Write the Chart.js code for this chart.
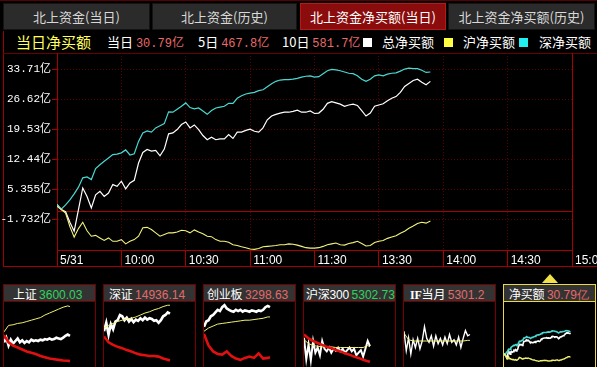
<!DOCTYPE html>
<html>
<head>
<meta charset="utf-8">
<script src="https://cdn.jsdelivr.net/npm/chart.js@4.4.1/dist/chart.umd.min.js"></script>
<style>
html, body { margin: 0; padding: 0; background: #000; }
body { width: 597px; height: 367px; overflow: hidden; position: relative; font-family: 'Noto Sans CJK SC', sans-serif; }
.topline { position: absolute; left: 0; top: 0; width: 597px; height: 1px; background: #5a0000; }
.tab { position: absolute; top: 3px; height: 27px; line-height: 26px; text-align: center; color: #d8d8d8; font-size: 13px;
       background: #2b2b2b; border: 1px solid #141414; box-sizing: border-box; }
.tab.on { background: #8a0c0c; border-color: #b41a1a; color: #fff; }
.hd { position: absolute; top: 31px; height: 22px; line-height: 22px; font-size: 13px; color: #fff; white-space: nowrap; }
.num { font-family: 'Liberation Mono', 'Noto Sans CJK SC', monospace; font-size: 12px; color: #e86a6a; }
.sq { position: absolute; top: 38px; width: 9px; height: 9px; }
.frame { position: absolute; left: 3px; top: 31px; width: 594px; height: 236px; border-left: 1px solid #a00000; border-bottom: 1px solid #a00000; box-sizing: border-box; }
.hline { position: absolute; left: 3px; top: 53px; width: 594px; height: 1px; background: #6a0000; }
#mainWrap { position: absolute; left: 0; top: 53px; width: 597px; height: 214px; }
.tb { position: absolute; top: 284px; width: 93px; height: 90px; }
.tbh { position: absolute; left: 0; top: 0; width: 93px; height: 18px; line-height: 17px; background: #333; border: 1px solid #6e0000;
       box-sizing: border-box; font-size: 12px; color: #fff; white-space: nowrap; overflow: hidden; padding-left: 3px; letter-spacing: -0.2px; }
.tbh .v { font-family: 'Liberation Sans', sans-serif; font-size: 12px; letter-spacing: 0; }
.tbh .d { font-family: 'Liberation Sans', sans-serif; font-size: 12px; }
.tbb { position: absolute; left: 0; top: 18px; width: 93px; height: 72px; border: 1px solid #7a0000; border-top: none; box-sizing: border-box; }
.tbb .cw { position: absolute; left: 0; top: 0; width: 91px; height: 65px; }
.sel .tbh, .sel .tbb { border-color: #e8d84a; }
.tri { position: absolute; left: 542px; top: 274px; width: 0; height: 0; border-left: 8px solid transparent; border-right: 8px solid transparent; border-bottom: 9px solid #f2e24a; }
</style>
</head>
<body>
<div class="topline"></div>
<div class="tab" style="left:3px;width:147px">北上资金(当日)</div>
<div class="tab" style="left:152px;width:145px">北上资金(历史)</div>
<div class="tab on" style="left:300px;width:146px">北上资金净买额(当日)</div>
<div class="tab" style="left:448px;width:147px">北上资金净买额(历史)</div>

<div class="frame"></div>
<div class="hline"></div>
<div class="hd" style="left:16px;font-size:15px;color:#ffff5a">当日净买额</div>
<div class="hd" style="left:107px">当日 <span class="num">30.79亿</span></div>
<div class="hd" style="left:198px">5日 <span class="num">467.8亿</span></div>
<div class="hd" style="left:282px">10日 <span class="num">581.7亿</span></div>
<div class="sq" style="left:363px;background:#fff"></div>
<div class="hd" style="left:382px">总净买额</div>
<div class="sq" style="left:444px;background:#ffff40"></div>
<div class="hd" style="left:463px">沪净买额</div>
<div class="sq" style="left:519px;background:#20f0f0"></div>
<div class="hd" style="left:539px">深净买额</div>

<div id="mainWrap"><canvas id="main"></canvas></div>

<div class="tb" style="left:3px"><div class="tbh" style="padding-left:9px">上证 <span class="v" style="color:#2fd35c">3600.03</span></div><div class="tbb"><div class="cw"><canvas id="t1"></canvas></div></div></div>
<div class="tb" style="left:103px"><div class="tbh" style="padding-left:5px">深证 <span class="v" style="color:#e46a6a">14936.14</span></div><div class="tbb"><div class="cw"><canvas id="t2"></canvas></div></div></div>
<div class="tb" style="left:203px"><div class="tbh">创业板 <span class="v" style="color:#e46a6a">3298.63</span></div><div class="tbb"><div class="cw"><canvas id="t3"></canvas></div></div></div>
<div class="tb" style="left:303px"><div class="tbh" style="padding-left:2px">沪深<span class="d">300</span> <span class="v" style="color:#2fd35c">5302.73</span></div><div class="tbb"><div class="cw"><canvas id="t4"></canvas></div></div></div>
<div class="tb" style="left:403px"><div class="tbh" style="padding-left:6px"><span class="d" style="font-family:'Liberation Serif',serif;font-weight:bold">IF</span>当月 <span class="v" style="color:#e46a6a">5301.2</span></div><div class="tbb"><div class="cw"><canvas id="t5"></canvas></div></div></div>
<div class="tri"></div>
<div class="tb sel" style="left:503px"><div class="tbh" style="padding-left:5px">净买额 <span class="v" style="color:#e46a6a">30.79亿</span></div><div class="tbb"><div class="cw"><canvas id="t6"></canvas></div></div></div>

<script>
// minutes since 9:30 (lunch break removed), one point every 2 minutes up to 13:54
const minutes = [
  0, 2, 4, 6, 8, 10, 12, 14, 16, 18,
  20, 22, 24, 26, 28, 30, 32, 34, 36, 38,
  40, 42, 44, 46, 48, 50, 52, 54, 56, 58,
  60, 62, 64, 66, 68, 70, 72, 74, 76, 78,
  80, 82, 84, 86, 88, 90, 92, 94, 96, 98,
  100, 102, 104, 106, 108, 110, 112, 114, 116, 118,
  120, 122, 124, 126, 128, 130, 132, 134, 136, 138,
  140, 142, 144, 146, 148, 150, 152, 154, 156, 158,
  160, 162, 164, 166, 168, 170, 172, 174
];

// 总净买额 (亿)
const totalNet = [
  1.7, 0.5, 0.0, -2.5, -4.6, 0.5, 5.6, 3.6, 0.9, 4.0,
  4.8, 3.6, 4.4, 6.4, 6.0, 7.2, 5.4, 6.8, 7.4, 11.5,
  14.0, 14.7, 14.3, 14.5, 13.2, 14.8, 18.4, 18.6, 19.4, 20.6,
  21.2, 19.8, 20.5, 19.4, 18.0, 17.0, 17.6, 17.0, 17.2, 17.2,
  18.2, 17.3, 18.8, 18.8, 19.2, 19.5, 19.0, 18.8, 19.8, 21.7,
  22.6, 23.0, 23.3, 23.5, 23.5, 23.7, 24.0, 23.5, 23.5, 23.8,
  23.2, 23.3, 24.2, 25.6, 26.0, 25.7, 25.4, 24.9, 25.2, 25.4,
  25.1, 23.9, 22.6, 23.3, 24.9, 25.2, 25.5, 26.2, 26.8, 27.2,
  28.2, 29.6, 30.3, 31.0, 31.3, 30.6, 30.0, 30.79
];

// 沪净买额 (亿)
const shNet = [
  1.3, 0.5, -0.3, -3.5, -6.0, -4.0, -2.5, -4.5, -5.8, -5.6,
  -6.2, -6.8, -6.2, -7.0, -7.0, -6.6, -7.6, -7.0, -6.6, -5.8,
  -3.8, -3.7, -4.2, -5.0, -5.8, -5.4, -5.0, -5.0, -4.8, -4.4,
  -4.5, -5.0, -4.3, -4.8, -5.2, -5.8, -5.9, -6.6, -7.0, -7.0,
  -7.2, -7.8, -8.0, -8.3, -8.5, -8.8, -8.9, -8.7, -8.3, -8.2,
  -8.1, -8.0, -7.8, -7.8, -7.6, -7.7, -7.9, -8.2, -8.5, -8.6,
  -8.6, -8.5, -8.2, -7.8, -7.6, -7.4, -7.8, -7.9, -7.5, -7.3,
  -7.0, -7.5, -8.1, -8.0, -7.3, -7.0, -6.8, -6.3, -6.0, -5.7,
  -5.1, -4.6, -3.9, -3.4, -2.8, -2.5, -2.7, -2.2
];

// 深净买额 (亿)
const szNet = [
  1.7, 0.6, 1.6, 2.8, 4.2, 5.8, 8.0, 8.2, 7.6, 10.2,
  11.1, 11.9, 12.7, 13.5, 13.6, 13.9, 14.6, 13.4, 13.7, 16.6,
  18.6, 19.1, 18.8, 19.8, 20.3, 20.8, 23.6, 23.5, 24.2, 24.9,
  25.7, 24.6, 24.3, 24.5, 23.8, 23.0, 23.9, 24.5, 24.7, 24.9,
  25.6, 25.6, 26.8, 27.4, 27.8, 28.0, 28.2, 28.6, 28.8, 29.5,
  30.2, 30.8, 31.1, 31.2, 31.2, 31.3, 31.5, 31.8, 32.0, 32.1,
  31.8, 31.9, 32.6, 33.3, 33.6, 33.5, 33.3, 33.0, 32.7, 32.6,
  32.1, 31.3, 30.8, 31.3, 32.1, 32.3, 32.1, 32.5, 32.7, 32.8,
  33.2, 33.7, 33.9, 33.8, 33.8, 33.4, 32.9, 33.0
];

const xTickMinutes = [0, 30, 60, 90, 120, 150, 180, 210, 240];
const xTickLabels = ['5/31', '10:00', '10:30', '11:00', '11:30', '13:30', '14:00', '14:30', '15:00'];
const yTicks = [-1.732, 5.355, 12.44, 19.53, 26.62, 33.71];
const yTickLabels = ['-1.732亿', '5.355亿', '12.44亿', '19.53亿', '26.62亿', '33.71亿'];

// small panels at the bottom, levels read relative to each panel (0 = bottom, 100 = top)
const thumbCoarse = [0, 12, 24, 36, 48, 60, 72, 84, 96, 108, 120, 132, 144, 156, 168, 174];
const thumbFine = [0, 6, 12, 18, 24, 30, 36, 42, 48, 54, 60, 66, 72, 78, 84, 90, 96, 102, 108, 114, 120, 126, 132, 138, 144, 150, 156, 162, 168, 174];

const shWhite = [38, 45, 33, 42, 36, 40, 44, 38, 41, 37, 40, 38, 42, 40, 41, 40, 42, 41, 43, 42, 44, 42, 43, 45, 44, 43, 45, 48, 50, 48];
const shYellow = [54, 64, 65, 67, 68, 70, 72, 74, 76, 80, 83, 86, 89, 92, 94, 93];
const shRed = [49, 38, 33, 30, 27, 24, 22, 20, 17, 15, 13, 12, 11, 10, 9.5, 9];

const szWhite = [55, 68, 50, 66, 58, 70, 72, 80, 78, 72, 76, 70, 74, 69, 73, 71, 75, 72, 76, 73, 75, 74, 71, 72, 68, 72, 78, 80, 84, 82];
const szYellow = [60, 64, 67, 70, 72, 74, 75, 77, 80, 83, 85, 88, 90, 93, 95, 95];
const szRed = [47, 38, 34, 31, 29, 26, 24, 21, 19, 18, 17, 17, 16, 13, 11, 10];

const cyWhite = [62, 70, 72, 78, 80, 84, 88, 86, 92, 95, 90, 88, 86, 85, 88, 86, 88, 85, 87, 86, 85, 87, 86, 85, 87, 86, 88, 92, 94, 92];
const cyYellow = [55, 60, 63, 66, 67, 68, 69, 70, 71, 72, 72, 73, 74, 75, 77, 77];
const cyRed = [51, 33, 24, 20, 19, 24, 17, 13, 11, 14, 16, 14, 21, 13, 14, 15];

const hsWhite = [45, 12, 35, 10, 40, 22, 30, 18, 40, 28, 24, 30, 22, 28, 25, 30, 24, 28, 22, 26, 30, 24, 28, 18, 22, 26, 16, 28, 40, 32];
const hsYellow = [42, 36, 33, 32, 31, 31, 31, 30, 30, 30, 30, 30, 30, 30, 33, 31];
const hsRed = [50, 44, 40, 37, 34, 31, 29, 26, 24, 21, 19, 16, 14, 11, 9, 8];

const ifWhite = [55, 25, 45, 20, 42, 30, 44, 28, 40, 62, 44, 38, 48, 32, 48, 36, 44, 34, 46, 36, 50, 38, 42, 34, 46, 30, 44, 56, 48, 50];
const ifYellow = [52, 42, 40, 40, 40, 40, 40, 40, 40, 40, 40, 40, 40, 40, 41, 41];

Chart.defaults.font.family = "'Liberation Sans', 'Noto Sans CJK SC', sans-serif";

const RED = '#a80000';
const DIM = '#560000';
const isEdge = v => v === 0 || v === 240;

new Chart(document.getElementById('main'), {
  type: 'line',
  data: {
    labels: minutes,
    datasets: [
      { label: '沪净买额', data: shNet, borderColor: '#f2f27c', borderWidth: 1.1 },
      { label: '深净买额', data: szNet, borderColor: '#4ad8d2', borderWidth: 1.2 },
      { label: '总净买额', data: totalNet, borderColor: '#ffffff', borderWidth: 1.2 }
    ]
  },
  options: {
    responsive: true,
    maintainAspectRatio: false,
    animation: false,
    layout: { padding: { left: 0, right: 25, top: 0, bottom: 0 } },
    elements: { point: { radius: 0 }, line: { tension: 0 } },
    plugins: { legend: { display: false }, tooltip: { enabled: false } },
    scales: {
      x: {
        type: 'linear',
        min: 0,
        max: 240,
        afterBuildTicks: s => { s.ticks = xTickMinutes.map(v => ({ value: v })); },
        afterFit: s => { s.height = 17; s.paddingLeft = 0; s.paddingRight = 0; },
        ticks: {
          autoSkip: false, maxRotation: 0, align: 'start', labelOffset: 3, padding: -14,
          color: '#ffffff', font: { size: 12 },
          callback: (v, i) => xTickLabels[i]
        },
        grid: {
          color: c => (c.tick && isEdge(c.tick.value)) ? RED : DIM,
          tickLength: 17, tickColor: RED, tickBorderDash: []
        },
        border: { color: RED, dash: c => (c.tick && !isEdge(c.tick.value)) ? [1, 2] : [] }
      },
      y: {
        min: -9.05,
        max: 37.49,
        afterBuildTicks: s => { s.ticks = yTicks.concat([0]).map(v => ({ value: v })); },
        afterFit: s => { s.width = 57; s.paddingTop = 0; s.paddingBottom = 0; },
        ticks: {
          padding: 1, color: '#ffffff',
          font: { size: 11, family: "'Liberation Mono', 'Noto Sans CJK SC', monospace" },
          callback: v => { const i = yTicks.indexOf(v); return i < 0 ? '' : yTickLabels[i]; }
        },
        grid: {
          color: c => (c.tick && c.tick.value === 0) ? RED : DIM,
          tickLength: 5,
          tickColor: c => (c.tick && c.tick.value === 0) ? 'rgba(0,0,0,0)' : RED,
          tickBorderDash: []
        },
        border: { color: RED, dash: c => (c.tick && c.tick.value !== 0) ? [1, 2] : [] }
      }
    }
  }
});

function line(xs, ys, color, width) {
  return { data: xs.map((m, i) => ({ x: m, y: ys[i] })), borderColor: color, borderWidth: width };
}

function thumb(id, datasets, lo, hi) {
  new Chart(document.getElementById(id), {
    type: 'line',
    data: { datasets: datasets },
    options: {
      responsive: true, maintainAspectRatio: false, animation: false,
      layout: { padding: 0 },
      elements: { point: { radius: 0 }, line: { tension: 0 } },
      plugins: { legend: { display: false }, tooltip: { enabled: false } },
      scales: {
        x: { type: 'linear', min: 0, max: 240, display: false },
        y: { min: lo, max: hi, display: false }
      }
    }
  });
}

thumb('t1', [
  line(thumbCoarse, shYellow, '#f0f070', 1),
  line(thumbCoarse, shRed, '#e01010', 2.6),
  line(thumbFine, shWhite, '#ffffff', 2.6)
], 0, 100);
thumb('t2', [
  line(thumbCoarse, szYellow, '#f0f070', 1),
  line(thumbCoarse, szRed, '#e01010', 2.6),
  line(thumbFine, szWhite, '#ffffff', 2.6)
], 0, 100);
thumb('t3', [
  line(thumbCoarse, cyYellow, '#f0f070', 1),
  line(thumbCoarse, cyRed, '#e01010', 2.6),
  line(thumbFine, cyWhite, '#ffffff', 2.6)
], 0, 100);
thumb('t4', [
  line(thumbCoarse, hsRed, '#e01010', 2.6),
  line(thumbCoarse, hsYellow, '#f0f070', 1),
  line(thumbFine, hsWhite, '#ffffff', 2)
], 0, 100);
thumb('t5', [
  line(thumbCoarse, ifYellow, '#f0f070', 1),
  line(thumbFine, ifWhite, '#ffffff', 1.4)
], 0, 100);
thumb('t6', [
  line(minutes, shNet, '#f0f070', 1.4),
  line(minutes, szNet, '#4ad8d2', 1.6),
  line(minutes, totalNet, '#ffffff', 1.6)
], -17, 74);
</script>
</body>
</html>
